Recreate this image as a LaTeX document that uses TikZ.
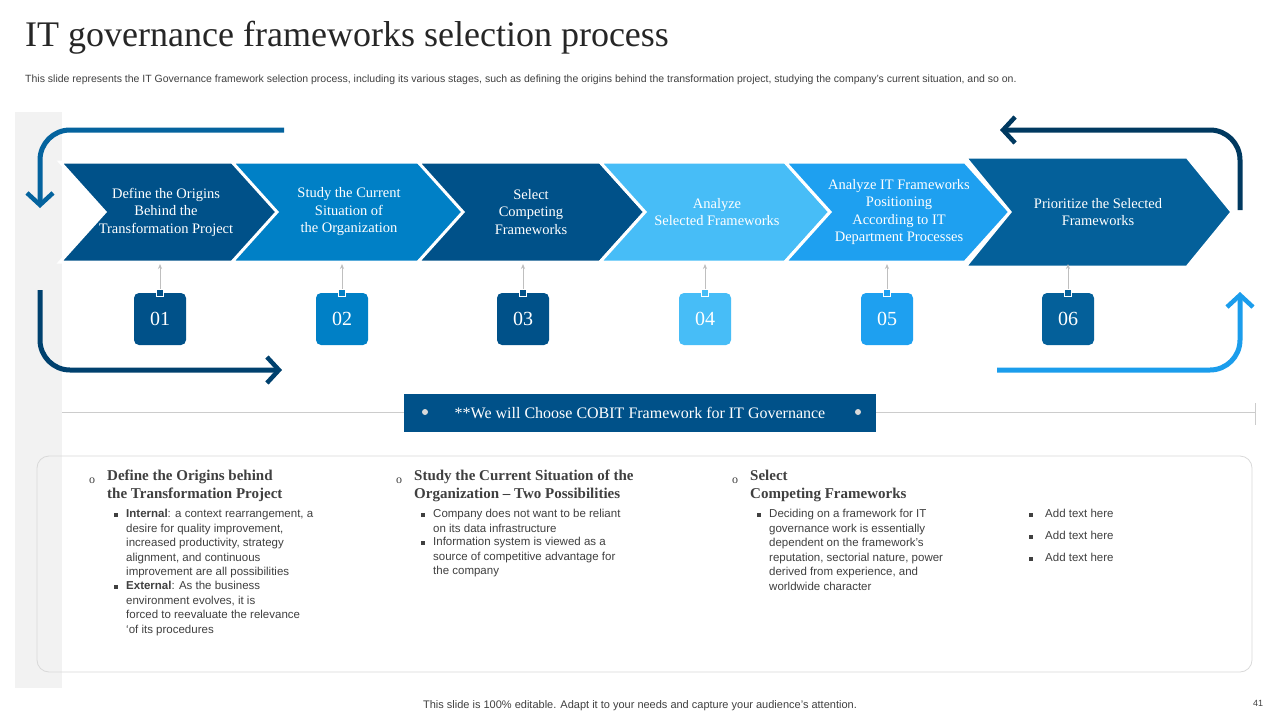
\documentclass[tikz,border=0pt]{standalone}
\usepackage{fontspec}
\setmainfont{Liberation Serif}
\setsansfont{Liberation Sans}
\usetikzlibrary{arrows.meta}
\definecolor{cA}{HTML}{005189}
\definecolor{cB}{HTML}{0080C6}
\definecolor{cC}{HTML}{47BDF7}
\definecolor{cD}{HTML}{1EA0F0}
\definecolor{cE}{HTML}{04609A}
\definecolor{txt}{HTML}{404040}
\tikzset{
 chev/.style={draw=white,line width=3pt,line join=miter},
 ctext/.style={text=white,font=\fontsize{14.5}{17.5}\selectfont,align=center},
 numbox/.style={rounded corners=5pt,minimum width=52pt,minimum height=52pt,text=white,font=\fontsize{20}{20}\selectfont},
 loop/.style={line width=5pt,rounded corners=30pt,-{Straight Barb[length=12pt,width=26pt,line width=4.5pt]}},
 head/.style={font=\bfseries\fontsize{15}{18}\selectfont,text=txt,align=left,anchor=north west,inner sep=0pt},
 body/.style={font=\sffamily\fontsize{11.5}{14.5}\selectfont,text=txt,align=left,anchor=north west,inner sep=0pt},
}
\begin{document}
\begin{tikzpicture}[x=1pt,y=-1pt]
\useasboundingbox (0,0) rectangle (1280,720);
\fill[white] (0,0) rectangle (1280,720);
\fill[black!5] (15,112) rectangle (62,688);
\node[anchor=west,inner sep=0pt,font=\fontsize{36}{40}\selectfont,text=black!85] (title) at (25,38) {IT governance frameworks selection process};
\node[anchor=west,inner sep=0pt,font=\sffamily\fontsize{10.5}{12}\selectfont,text=txt] (sub) at (25,80) {This slide represents the IT Governance framework selection process, including its various stages, such as defining the origins behind the transformation project, studying the company's current situation, and so on.};
% loops
\draw[loop,draw=cE!90!cB] (284,130) -- (40,130) -- (40,208);
\draw[loop,draw=cA!80!black] (40,290) -- (40,370) -- (282,370);
\draw[loop,draw=cA!70!black] (1240,210) -- (1240,130) -- (1000,130);
\draw[loop,draw=cD!90!cB] (997,370) -- (1240,370) -- (1240,292);
% chevrons
\foreach \L/\T/\c/\tp/\bt [count=\i] in {60/278/cA/162/262, 232/465/cB/162/262, 418/645/cA/162/262, 600/830/cC/162/262, 785/1010/cD/162/262, 965/1232/cE/157/267}{
 \filldraw[chev,fill=\c] (\L,\tp) -- (\T-45,\tp) -- (\T,212) -- (\T-45,\bt) -- (\L,\bt) -- (\L+45,212) -- cycle;
}
\node[ctext] (t1) at (166,212) {Define the Origins\\Behind the\\Transformation Project};
\node[ctext] (t2) at (349,212) {Study the Current\\Situation of\\the Organization};
\node[ctext] (t3) at (531,212) {Select\\Competing\\Frameworks};
\node[ctext] (t4) at (717,212) {Analyze\\Selected Frameworks};
\node[ctext] (t5) at (899,212) {Analyze IT Frameworks\\Positioning\\According to IT\\Department Processes};
\node[ctext] (t6) at (1098,212) {Prioritize the Selected\\Frameworks};
\foreach \x/\c/\n [count=\i] in {160/cA/01,342/cB/02,523/cA/03,705/cC/04,887/cD/05,1068/cE/06}{
 \node[numbox,fill=\c] (n\i) at (\x,319) {\n};
 \coordinate (up\i) at (\x,264);
 \draw[black!25,line width=0.8pt,-{Stealth[length=5pt,width=4pt]}] (n\i.north) -- (up\i);
 \filldraw[fill=\c,draw=white,line width=0.8pt] ([xshift=-3.5pt,yshift=3.5pt]n\i.north) rectangle ([xshift=3.5pt,yshift=-3.5pt]n\i.north);
}
% banner
\draw[black!20,line width=0.8pt] (62,412) -- (1255,412);
\draw[black!20,line width=0.8pt] (1255,403) -- (1255,425);
\node[fill=cA,minimum width=472pt,minimum height=38pt,text=white,font=\fontsize{16}{18}\selectfont] (ban) at (640,413) {**We will Choose COBIT Framework for IT Governance};
\fill[black!15] (425,412) circle (3pt) (858,412) circle (3pt);
% bottom box
\draw[black!15,line width=0.8pt,rounded corners=12pt] (37,456) rectangle (1252,672);
\foreach \x in {92,399,735}{\node[font=\fontsize{12}{12}\selectfont,text=txt,inner sep=0pt] at (\x,481) {o};}
\node[head] (h1) at (107,470) {Define the Origins behind\\the Transformation Project};
\node[head] (h2) at (414,470) {Study the Current Situation of the\\Organization – Two Possibilities};
\node[head] (h3) at (750,470) {Select\\Competing Frameworks};
\foreach \x/\y in {116/515, 116/587, 423/515, 423/543, 759/515, 1031/515, 1031/537, 1031/559}{\fill[txt] (\x-2,\y-2) rectangle (\x+2,\y+2);}
\node[body] (b1) at (126,509) {\textbf{Internal}: a context rearrangement, a\\desire for quality improvement,\\increased productivity, strategy\\alignment, and continuous\\improvement are all possibilities};
\node[body] (b2) at (126,581) {\textbf{External}: As the business\\environment evolves, it is\\forced to reevaluate the relevance\\`of its procedures};
\node[body] (b3) at (433,509) {Company does not want to be reliant\\on its data infrastructure};
\node[body] (b4) at (433,537) {Information system is viewed as a\\source of competitive advantage for\\the company};
\node[body] (b5) at (769,509) {Deciding on a framework for IT\\governance work is essentially\\dependent on the framework's\\reputation, sectorial nature, power\\derived from experience, and\\worldwide character};
\node[body] (b6) at (1045,509) {Add text here};
\node[body] (b7) at (1045,531) {Add text here};
\node[body] (b8) at (1045,553) {Add text here};
\node[font=\sffamily\fontsize{11}{12}\selectfont,text=txt] (foot) at (640,706) {This slide is 100\% editable. Adapt it to your needs and capture your audience's attention.};
\node[font=\sffamily\fontsize{9}{10}\selectfont,text=txt] (pg) at (1258,703) {41};
\end{tikzpicture}
\end{document}
